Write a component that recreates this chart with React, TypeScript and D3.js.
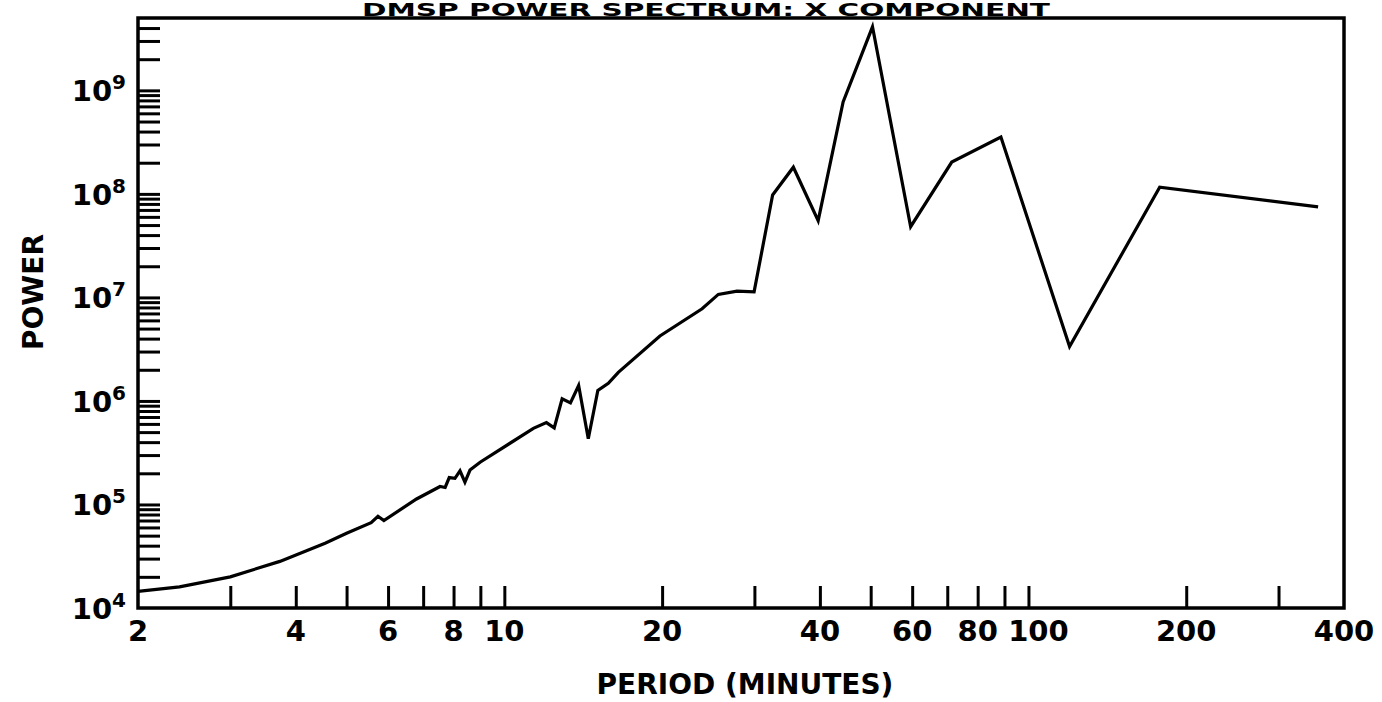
import { useEffect, useRef } from "react";
import * as d3 from "d3";

// period in minutes and power
const periods = [
  2, 2.4, 3.0, 3.73, 4.55, 5.0, 5.57, 5.74, 5.89, 6.8, 7.54, 7.71, 7.85, 8.05,
  8.23, 8.41, 8.6, 8.99, 11.36, 12.03, 12.45, 12.89, 13.37, 13.86, 14.46, 15.08,
  15.79, 16.5, 19.81, 23.84, 25.6, 27.8, 29.96, 32.5, 35.6, 39.7, 44.3, 50.4,
  59.6, 71.4, 88.6, 119.8, 178, 357,
];
const power = [
  1.45e4, 1.6e4, 2.0e4, 2.82e4, 4.23e4, 5.27e4, 6.66e4, 7.7e4, 7.0e4, 1.13e5,
  1.49e5, 1.46e5, 1.82e5, 1.79e5, 2.11e5, 1.64e5, 2.15e5, 2.56e5, 5.43e5,
  6.18e5, 5.5e5, 1.05e6, 9.57e5, 1.41e6, 4.31e5, 1.26e6, 1.48e6, 1.89e6, 4.24e6,
  7.77e6, 1.07e7, 1.15e7, 1.13e7, 9.75e7, 1.81e8, 5.52e7, 7.73e8, 4.11e9,
  4.82e7, 2.03e8, 3.54e8, 3.36e6, 1.16e8, 7.48e7,
];

const xTicks = [3, 4, 5, 6, 7, 8, 9, 10, 20, 30, 40, 50, 60, 70, 80, 90, 100, 200, 300];
const xLabels = [2, 4, 6, 8, 10, 20, 40, 60, 80, 100, 200, 400];
const yExponents = [4, 5, 6, 7, 8, 9];

const DMSPChart = () => {
  const ref = useRef(null);

  useEffect(() => {
    const width = 1382;
    const height = 702;
    const left = 138;
    const right = 1344;
    const top = 18;
    const bottom = 608;
    const font = "'DejaVu Sans', 'Liberation Sans', sans-serif";

    const root = d3.select(ref.current);
    root.selectAll("*").remove();
    const svg = root
      .append("svg")
      .attr("width", width)
      .attr("height", height)
      .style("position", "absolute")
      .style("left", 0)
      .style("top", 0)
      .style("background", "#fff");

    const x = d3.scaleLog().domain([2, 400]).range([left, right]);
    const y = d3.scaleLog().domain([1e4, 5e9]).range([bottom, top]);

    // minor + major ticks on y (1..9 x 10^n)
    const yTicks = [];
    for (let e = 4; e <= 9; e++) {
      for (let m = 1; m <= 9; m++) {
        const v = m * Math.pow(10, e);
        if (v > 1e4 && v < 5e9) yTicks.push(v);
      }
    }

    const xAxis = d3.axisBottom(x).tickValues(xTicks).tickSize(-22).tickFormat(() => "");
    const gx = svg.append("g").attr("transform", `translate(0, ${bottom})`).call(xAxis);
    gx.select(".domain").remove();
    gx.selectAll("line").attr("stroke", "#000").attr("stroke-width", 3);

    const yAxis = d3.axisLeft(y).tickValues(yTicks).tickSize(-22).tickFormat(() => "");
    const gy = svg.append("g").attr("transform", `translate(${left}, 0)`).call(yAxis);
    gy.select(".domain").remove();
    gy.selectAll("line").attr("stroke", "#000").attr("stroke-width", 3);

    // frame
    svg
      .append("rect")
      .attr("x", left)
      .attr("y", top)
      .attr("width", right - left)
      .attr("height", bottom - top)
      .attr("fill", "none")
      .attr("stroke", "#000")
      .attr("stroke-width", 3.5);

    // spectrum line
    const line = d3
      .line()
      .x((d) => x(d[0]))
      .y((d) => y(d[1]));
    svg
      .append("path")
      .datum(periods.map((p, i) => [p, power[i]]))
      .attr("d", line)
      .attr("fill", "none")
      .attr("stroke", "#000")
      .attr("stroke-width", 3.2)
      .attr("stroke-linejoin", "miter");

    // x labels (100 nudged right as in the original, so it clears 80)
    svg
      .append("g")
      .selectAll("text")
      .data(xLabels)
      .join("text")
      .attr("x", (d) => x(d) + (d === 100 ? 10 : 0))
      .attr("y", bottom + 33)
      .attr("text-anchor", "middle")
      .attr("font-family", font)
      .attr("font-weight", "bold")
      .attr("font-size", 29)
      .text((d) => d);

    // y labels 10^n
    const yl = svg
      .append("g")
      .selectAll("text")
      .data(yExponents)
      .join("text")
      .attr("x", 126)
      .attr("y", (d) => y(Math.pow(10, d)) + 11)
      .attr("text-anchor", "end")
      .attr("font-family", font)
      .attr("font-weight", "bold")
      .attr("font-size", 29);
    yl.append("tspan").text("10");
    yl.append("tspan")
      .attr("dy", -12)
      .attr("font-size", 20)
      .text((d) => d);

    svg
      .append("text")
      .attr("x", 745)
      .attr("y", 694)
      .attr("text-anchor", "middle")
      .attr("font-family", font)
      .attr("font-weight", "bold")
      .attr("font-size", 28)
      .text("PERIOD (MINUTES)");

    svg
      .append("text")
      .attr("transform", "translate(43, 292) rotate(-90)")
      .attr("text-anchor", "middle")
      .attr("font-family", font)
      .attr("font-weight", "bold")
      .attr("font-size", 28)
      .text("POWER");

    // title sits in the narrow band above the frame
    svg
      .append("text")
      .attr("x", 706)
      .attr("y", 16)
      .attr("text-anchor", "middle")
      .attr("font-family", font)
      .attr("font-weight", "bold")
      .attr("font-size", 17)
      .attr("textLength", 688)
      .attr("lengthAdjust", "spacingAndGlyphs")
      .text("DMSP POWER SPECTRUM: X COMPONENT");
  }, []);

  return <div ref={ref} />;
};

export default function App() {
  return <DMSPChart />;
}
